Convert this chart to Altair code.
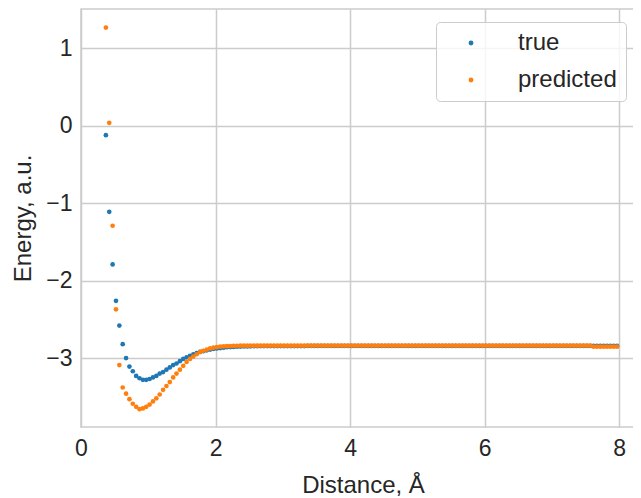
import altair as alt
import pandas as pd

# Sampling grid of the distances (uniform spacing)
distance = [round(0.37 + 0.05 * i, 2) for i in range(153)]

true_energy = [
    -0.12, -1.11, -1.79, -2.26, -2.58, -2.82, -3.00, -3.11, -3.17, -3.23,
    -3.26, -3.28, -3.28, -3.27, -3.25, -3.23, -3.20, -3.18, -3.15, -3.12,
    -3.09, -3.07, -3.04, -3.01, -2.99, -2.97, -2.95, -2.935, -2.92, -2.91,
    -2.90, -2.89, -2.88, -2.875, -2.87, -2.865, -2.86, -2.857, -2.855, -2.853,
    -2.851, -2.850, -2.849, -2.848, -2.847, -2.846, -2.845, -2.845, -2.845, -2.845,
    -2.845, -2.845, -2.845, -2.845, -2.845, -2.845, -2.845, -2.845, -2.845, -2.845,
    -2.843, -2.843, -2.843, -2.843, -2.843, -2.843, -2.843, -2.843, -2.843, -2.843,
    -2.843, -2.843, -2.843, -2.843, -2.843, -2.843, -2.843, -2.843, -2.843, -2.843,
    -2.843, -2.843, -2.843, -2.843, -2.843, -2.843, -2.843, -2.843, -2.843, -2.843,
    -2.843, -2.843, -2.843, -2.843, -2.843, -2.843, -2.843, -2.843, -2.843, -2.843,
    -2.843, -2.843, -2.843, -2.843, -2.843, -2.843, -2.843, -2.843, -2.843, -2.843,
    -2.843, -2.843, -2.843, -2.843, -2.843, -2.843, -2.843, -2.843, -2.843, -2.843,
    -2.843, -2.843, -2.843, -2.843, -2.843, -2.843, -2.843, -2.843, -2.843, -2.843,
    -2.843, -2.843, -2.843, -2.843, -2.843, -2.843, -2.843, -2.843, -2.843, -2.843,
    -2.843, -2.843, -2.843, -2.843, -2.843, -2.842, -2.842, -2.842, -2.842, -2.842,
    -2.842, -2.842, -2.842,
]

pred_energy = [
    1.27, 0.04, -1.29, -2.37, -3.09, -3.38, -3.46, -3.53, -3.59, -3.63,
    -3.66, -3.65, -3.63, -3.60, -3.56, -3.52, -3.47, -3.41, -3.36, -3.31,
    -3.25, -3.20, -3.15, -3.10, -3.05, -3.01, -2.98, -2.95, -2.92, -2.905,
    -2.89, -2.875, -2.865, -2.857, -2.852, -2.848, -2.846, -2.844, -2.842, -2.840,
    -2.839, -2.839, -2.839, -2.839, -2.839, -2.839, -2.839, -2.839, -2.839, -2.839,
    -2.839, -2.839, -2.839, -2.839, -2.839, -2.839, -2.839, -2.839, -2.839, -2.839,
    -2.838, -2.838, -2.838, -2.838, -2.838, -2.838, -2.838, -2.838, -2.838, -2.838,
    -2.838, -2.838, -2.838, -2.838, -2.838, -2.838, -2.838, -2.838, -2.838, -2.838,
    -2.838, -2.838, -2.838, -2.838, -2.838, -2.838, -2.838, -2.838, -2.838, -2.838,
    -2.838, -2.838, -2.838, -2.838, -2.838, -2.838, -2.838, -2.838, -2.838, -2.838,
    -2.838, -2.838, -2.838, -2.838, -2.838, -2.838, -2.838, -2.838, -2.838, -2.838,
    -2.838, -2.838, -2.838, -2.838, -2.838, -2.838, -2.838, -2.838, -2.838, -2.838,
    -2.838, -2.838, -2.838, -2.838, -2.838, -2.838, -2.838, -2.838, -2.838, -2.838,
    -2.838, -2.838, -2.838, -2.838, -2.838, -2.838, -2.838, -2.838, -2.838, -2.838,
    -2.838, -2.838, -2.838, -2.838, -2.838, -2.852, -2.852, -2.852, -2.852, -2.852,
    -2.852, -2.852, -2.852,
]

series_names = ["true", "predicted"]
series_colors = ["#1f77b4", "#ff7f0e"]
x_ticks = [0, 2, 4, 6, 8]
y_ticks = [-3, -2, -1, 0, 1]

rows = []
for name, ys in zip(series_names, [true_energy, pred_energy]):
    for x, y in zip(distance, ys):
        rows.append({"distance": x, "energy": y, "series": name})
df = pd.DataFrame(rows)

FONT = "Liberation Sans"
TXT = "#262626"
GRID = "#cccccc"

chart = (
    alt.Chart(df)
    .mark_circle(size=22, opacity=1)
    .encode(
        x=alt.X(
            "distance:Q",
            scale=alt.Scale(domain=[0, 8.31], nice=False, zero=False),
            axis=alt.Axis(
                values=x_ticks,
                title="Distance, Å",
                grid=True, gridColor=GRID, gridWidth=1.5,
                domain=False, ticks=False,
                labelFont=FONT, labelFontSize=23, labelColor=TXT, labelPadding=10,
                labelFlush=False,
                titleFont=FONT, titleFontSize=24, titleColor=TXT,
                titleFontWeight="normal",
                titleX=282, titleY=65, titleAlign="center",
                titleBaseline="alphabetic",
            ),
        ),
        y=alt.Y(
            "energy:Q",
            scale=alt.Scale(domain=[-3.89, 1.51], nice=False, zero=False),
            axis=alt.Axis(
                values=y_ticks,
                title="Energy, a.u.",
                grid=True, gridColor=GRID, gridWidth=1.5,
                domain=False, ticks=False,
                labelFont=FONT, labelFontSize=23, labelColor=TXT, labelPadding=9,
                titleFont=FONT, titleFontSize=24, titleColor=TXT,
                titleFontWeight="normal",
                titleX=-51, titleY=209, titleAngle=270, titleAlign="center",
                titleBaseline="alphabetic",
            ),
        ),
        color=alt.Color(
            "series:N",
            scale=alt.Scale(domain=series_names, range=series_colors),
            legend=alt.Legend(
                title=None,
                orient="none", legendX=355, legendY=13,
                labelFont=FONT, labelFontSize=24, labelColor=TXT,
                symbolType="circle", symbolSize=24, symbolStrokeWidth=0,
                symbolOpacity=1,
                padding=9, rowPadding=13,
                symbolOffset=14, labelOffset=35,
                strokeColor=GRID, fillColor="rgba(255,255,255,0.8)",
                cornerRadius=4,
            ),
        ),
    )
    .properties(
        width=559,
        height=418,
        padding={"left": 73, "top": 1, "right": -7, "bottom": 70},
        autosize=alt.AutoSizeParams(type="none"),
        background="white",
    )
    .configure_view(stroke=GRID, strokeWidth=1.5)
)

chart.save("out.html", embed_options={"renderer": "svg", "actions": False})
